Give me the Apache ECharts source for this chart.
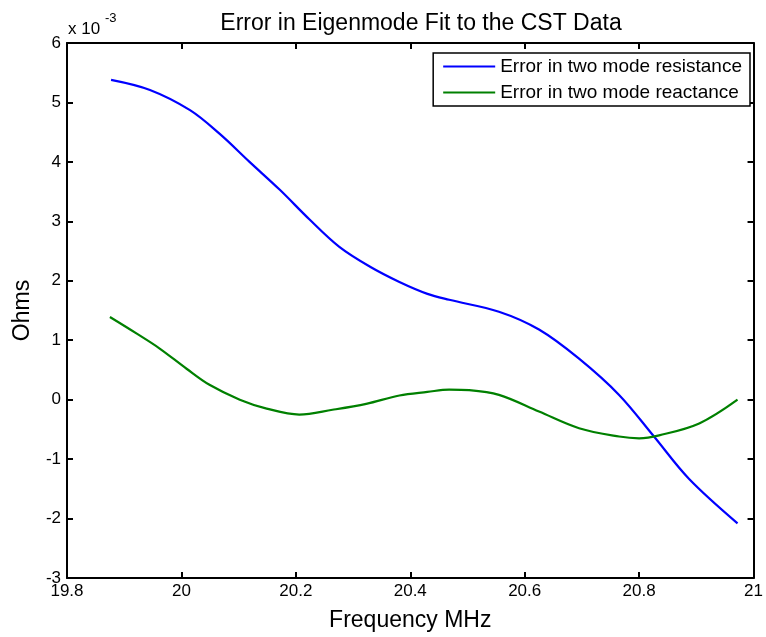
<!DOCTYPE html>
<html>
<head>
<meta charset="utf-8">
<script src="https://cdn.jsdelivr.net/npm/echarts@6/dist/echarts.min.js"></script>
<style>
  html, body { margin: 0; padding: 0; background: #fff; }
  #chart { width: 766px; height: 637px; }
</style>
</head>
<body>
<div id="chart"></div>
<script>
// Frequency samples (MHz) and errors (units of 1e-3 Ohms)
const resistanceFreq = [19.877, 19.945, 20.015, 20.067, 20.119, 20.172, 20.224, 20.276, 20.329, 20.381, 20.43, 20.468, 20.555, 20.625, 20.695, 20.765, 20.826, 20.887, 20.972];
const resistanceErr  = [5.38, 5.21, 4.87, 4.47, 4.0, 3.53, 3.03, 2.57, 2.24, 1.98, 1.78, 1.68, 1.48, 1.18, 0.69, 0.08, -0.62, -1.33, -2.08];

const reactanceFreq = [19.875, 19.922, 19.962, 20.009, 20.049, 20.102, 20.149, 20.206, 20.264, 20.323, 20.381, 20.43, 20.468, 20.503, 20.555, 20.625, 20.695, 20.765, 20.8, 20.835, 20.905, 20.972];
const reactanceErr  = [1.39, 1.11, 0.86, 0.52, 0.25, 0.0, -0.15, -0.25, -0.17, -0.07, 0.07, 0.13, 0.17, 0.16, 0.08, -0.2, -0.48, -0.62, -0.65, -0.6, -0.4, 0.0];

const seriesNames = ['Error in two mode resistance', 'Error in two mode reactance'];
const xTicks = { min: 19.8, max: 21, step: 0.2 };
const yTicks = { min: -3, max: 6, step: 1 };

const zip = (xs, ys) => xs.map((x, i) => [x, ys[i]]);
const font = 'Liberation Sans, Arial, Helvetica, sans-serif';

const chart = echarts.init(document.getElementById('chart'));

// shared box-axis styling: black frame with inward ticks on all four sides
const tickCommon = () => ({
  axisLine: { show: true, onZero: false, lineStyle: { color: '#000', width: 2 } },
  axisTick: { show: true, inside: true, length: 6, lineStyle: { color: '#000', width: 2 } },
  splitLine: { show: false }
});

chart.setOption({
  animation: false,
  backgroundColor: '#fff',
  title: {
    text: 'Error in Eigenmode Fit to the CST Data',
    left: 416, top: 7, textAlign: 'center',
    textStyle: { fontFamily: font, fontSize: 23, fontWeight: 'normal', color: '#000' }
  },
  grid: { left: 67, right: 11, top: 43, bottom: 59 },
  legend: {
    orient: 'vertical',
    right: 16, top: 53,
    backgroundColor: '#fff',
    borderColor: '#000', borderWidth: 1.5, borderRadius: 0,
    padding: [4, 8, 4, 10],
    itemGap: 7,
    itemWidth: 52, itemHeight: 2,
    icon: 'rect',
    textStyle: { fontFamily: font, fontSize: 19, color: '#000', padding: [0, 0, 0, 0] },
    data: seriesNames
  },
  xAxis: [
    Object.assign({
      type: 'value', position: 'bottom',
      min: xTicks.min, max: xTicks.max, interval: xTicks.step,
      name: 'Frequency MHz', nameLocation: 'middle', nameGap: 31,
      nameTextStyle: { fontFamily: font, fontSize: 23, color: '#000' },
      axisLabel: { fontFamily: font, fontSize: 17, color: '#000', margin: 5,
        formatter: v => String(Math.round(v * 10) / 10) }
    }, tickCommon()),
    Object.assign({
      type: 'value', position: 'top',
      min: xTicks.min, max: xTicks.max, interval: xTicks.step,
      axisLabel: { show: false }
    }, tickCommon())
  ],
  yAxis: [
    Object.assign({
      type: 'value', position: 'left',
      min: yTicks.min, max: yTicks.max, interval: yTicks.step,
      name: 'Ohms', nameLocation: 'middle', nameGap: 33,
      nameTextStyle: { fontFamily: font, fontSize: 23, color: '#000' },
      axisLabel: { fontFamily: font, fontSize: 17, color: '#000', margin: 6 }
    }, tickCommon()),
    Object.assign({
      type: 'value', position: 'right',
      min: yTicks.min, max: yTicks.max, interval: yTicks.step,
      axisLabel: { show: false }
    }, tickCommon())
  ],
  graphic: [
    {
      type: 'text', left: 68, top: 21,
      style: { text: 'x 10', fontFamily: font, fontSize: 17, fill: '#000' }
    },
    {
      type: 'text', left: 105, top: 12,
      style: { text: '-3', fontFamily: font, fontSize: 13, fill: '#000' }
    }
  ],
  series: [
    {
      name: seriesNames[0], type: 'line', smooth: 0.35, showSymbol: false,
      data: zip(resistanceFreq, resistanceErr),
      lineStyle: { color: '#0000ff', width: 2.2 }, itemStyle: { color: '#0000ff' }
    },
    {
      name: seriesNames[1], type: 'line', smooth: 0.35, showSymbol: false,
      data: zip(reactanceFreq, reactanceErr),
      lineStyle: { color: '#008000', width: 2.2 }, itemStyle: { color: '#008000' }
    }
  ]
});
</script>
</body>
</html>
